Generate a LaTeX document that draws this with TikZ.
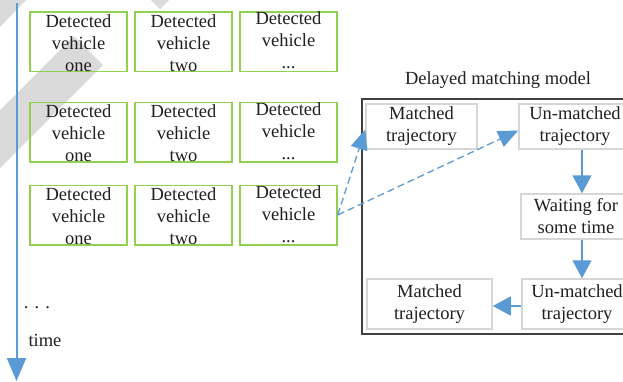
\documentclass[tikz,border=0pt]{standalone}
\usepackage{fontspec}
\setmainfont{Liberation Serif}
\usetikzlibrary{arrows.meta}
\definecolor{axblue}{RGB}{91,155,213}
\definecolor{vgreen}{RGB}{146,208,80}
\definecolor{lgrey}{RGB}{214,214,214}
\definecolor{framec}{RGB}{64,64,64}
\definecolor{wm}{RGB}{218,218,218}
\definecolor{ink}{RGB}{35,31,32}
\begin{document}
\begin{tikzpicture}[x=1pt,y=-1pt,
  vbox/.style={draw=vgreen, line width=1.5pt, minimum width=97pt, minimum height=59.5pt, inner sep=0pt},
  tbox/.style={draw=lgrey, line width=1.5pt, inner sep=0pt, minimum height=45pt,
    font=\fontsize{18.5pt}{22pt}\selectfont, text=ink, align=center},
  txt/.style={font=\fontsize{18.5pt}{22pt}\selectfont, text=ink, align=center, inner sep=0pt},
  flow/.style={draw=axblue, line width=1.5pt, -{Triangle[length=18pt,width=19pt]}},
  dflow/.style={draw=axblue, line width=1.3pt, dash pattern=on 7pt off 4pt, -{Triangle[length=20pt,width=17pt]}},
]
\useasboundingbox (0,0) rectangle (623,381);
\clip (0,0) rectangle (623,381);
\fill[white] (0,0) rectangle (623,381);
% watermark
\fill[wm] (0,0) -- (26,0) -- (0,27) -- cycle;
\fill[wm] (74,36) -- (103,65) -- (0,168) -- (0,110) -- cycle;
\fill[wm] (151,0) -- (169,0) -- (160,9) -- cycle;
% time axis
\coordinate (ttop) at (16.5,3);
\coordinate (tbot) at (16.5,381);
\draw[draw=axblue, line width=2pt, -{Triangle[length=23pt,width=19pt]}] (ttop) -- (tbot);
\node[txt] (dots) at (37,308) {.\,\,.\,\,.};
\node[txt] (time) at (45,340) {time};
% detected vehicle boxes
\foreach \r/\y in {1/41.5,2/132,3/215}{
  \node[vbox] (v\r1) at (78.5,\y) {};
  \node[vbox] (v\r2) at (183.5,\y) {};
  \node[vbox] (v\r3) at (288.5,\y) {};
  \node[txt] (t\r1) at ([yshift=-1.5pt]v\r1.center) {Detected\\vehicle\\one};
  \node[txt] (t\r2) at ([yshift=-1.5pt]v\r2.center) {Detected\\vehicle\\two};
  \node[txt] (t\r3) at ([yshift=1pt]v\r3.center) {Detected\\vehicle\\...};
}
% delayed matching model
\node[txt] (title) at (498,80) {Delayed matching model};
\draw[draw=framec, line width=2pt] (640,99) -- (362,99) -- (362,334) -- (640,334);
\node[tbox, minimum width=111pt] (m1) at (421.5,126.5) {Matched\\trajectory};
\node[tbox, minimum width=112pt] (u1) at (575,126.5) {Un-matched\\trajectory};
\node[tbox, minimum width=110pt] (w) at (576,216.5) {Waiting for\\some time};
\node[tbox, minimum width=110pt, minimum height=50pt] (u2) at (577,304) {Un-matched\\trajectory};
\node[tbox, minimum width=125pt, minimum height=50pt] (m2) at (429.5,304) {Matched\\trajectory};
\draw[flow] ([xshift=7pt]u1.south) -- ([xshift=7pt]u1.south |- w.north);
\draw[flow] ([xshift=6pt]w.south) -- ([xshift=6pt]w.south |- u2.north);
\draw[flow] ([yshift=-2pt]u2.west) -- ([yshift=-2pt]u2.west -| m2.east);
\draw[dflow] (v33.east) -- ([yshift=-3pt]m1.west);
\draw[dflow] (v33.east) -- ([yshift=-4pt]u1.west);
\end{tikzpicture}
\end{document}
